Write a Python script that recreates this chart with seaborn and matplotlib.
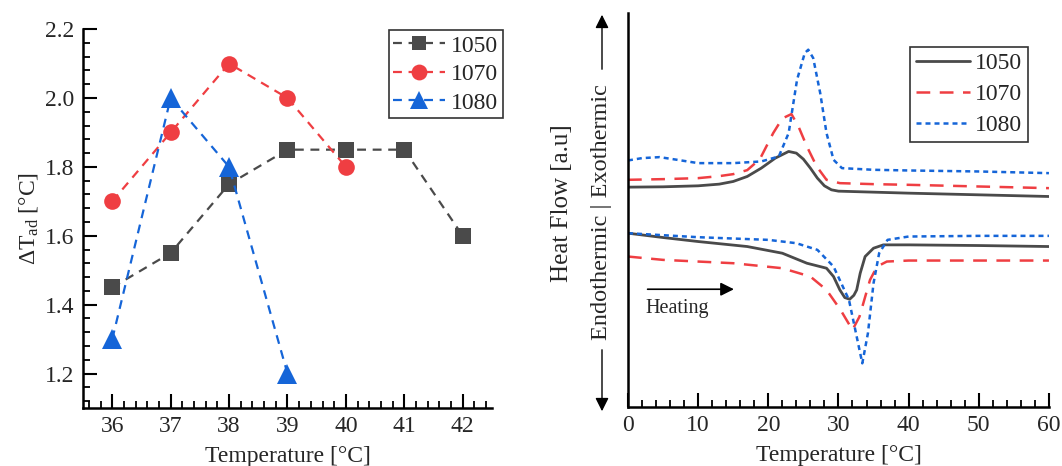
import numpy as np
import pandas as pd
import matplotlib
matplotlib.use("Agg")
import matplotlib.pyplot as plt
import seaborn as sns

# ---- Left panel data ----
temp_1050 = [36, 37, 38, 39, 40, 41, 42]
dtad_1050 = [1.45, 1.55, 1.75, 1.85, 1.85, 1.85, 1.60]
temp_1070 = [36, 37, 38, 39, 40]
dtad_1070 = [1.70, 1.90, 2.10, 2.00, 1.80]
temp_1080 = [36, 37, 38, 39]
dtad_1080 = [1.30, 2.00, 1.80, 1.20]

# ---- Right panel data (DSC, arbitrary units) ----
t_up_1050 = [0, 5, 10, 13, 15, 17, 19, 21, 22.9, 24, 25, 26, 27, 28, 29, 30, 35, 40, 50, 60]
hf_up_1050 = [65.9, 66.0, 66.3, 66.8, 67.6, 69.1, 71.6, 74.6, 76.6, 76.1, 74.3, 71.6, 68.6, 66.3, 65.1, 64.7, 64.4, 64.1, 63.6, 63.1]
t_up_1070 = [0, 5, 10, 13, 15, 17, 18.8, 20.7, 22, 23.3, 24.3, 25.5, 26.9, 28.3, 30.2, 35, 40, 50, 60]
hf_up_1070 = [68.1, 68.3, 68.6, 69.2, 69.8, 71.0, 74.3, 82.1, 86.5, 87.8, 84.1, 78.1, 72.1, 68.1, 67.1, 66.8, 66.6, 66.1, 65.6]
t_up_1080 = [0, 2, 4.5, 7, 10, 15, 19, 21.5, 22.9, 24.1, 25.2, 25.7, 26.4, 27.4, 28.3, 29.3, 30.5, 35, 40, 50, 60]
hf_up_1080 = [73.9, 74.6, 74.9, 74.1, 73.1, 73.1, 73.6, 75.1, 82.1, 98.1, 106.1, 107.1, 104.6, 94.1, 82.1, 74.1, 71.6, 71.1, 70.9, 70.6, 70.1]

t_lo_1050 = [0, 5, 10, 17, 22, 25.5, 28.3, 29.3, 30.2, 30.9, 31.6, 32.2, 32.6, 33.1, 33.8, 35, 36.4, 40, 50, 60]
hf_lo_1050 = [52.1, 50.8, 49.6, 48.1, 46.1, 43.1, 41.6, 39.1, 35.1, 32.8, 32.3, 33.5, 35.1, 40.1, 45.1, 47.6, 48.6, 48.6, 48.4, 48.1]
t_lo_1070 = [0, 5, 10, 15, 22, 26, 28.3, 30.3, 32, 33, 34.5, 35.5, 36.9, 40, 50, 60]
hf_lo_1070 = [45.1, 44.1, 43.6, 43.1, 41.6, 39.1, 35.1, 29.1, 23.1, 27.1, 38.1, 42.1, 43.6, 43.9, 43.9, 43.9]
t_lo_1080 = [0, 10, 20, 24, 27, 29.3, 31.5, 32.5, 33.4, 34.2, 35, 35.8, 37, 40, 50, 60]
hf_lo_1080 = [52.1, 50.9, 50.1, 49.1, 47.1, 42.1, 32.1, 22.1, 13.1, 22.1, 37.1, 46.1, 50.1, 51.1, 51.3, 51.3]

labels = ["1050", "1070", "1080"]
c_gray = "#4a4a4a"
c_red = "#ef3e42"
c_blue = "#1565d8"

sns.set_style("ticks")
plt.rcParams["font.family"] = ["Liberation Serif", "DejaVu Serif"]
plt.rcParams["mathtext.fontset"] = "custom"
plt.rcParams["mathtext.rm"] = "Liberation Serif"
plt.rcParams["mathtext.it"] = "Liberation Serif:italic"
plt.rcParams["xtick.direction"] = "in"
plt.rcParams["ytick.direction"] = "in"

fig = plt.figure(figsize=(10.62, 4.66), dpi=100)
axL = fig.add_axes([0.0782, 0.1245, 0.385, 0.813])
axR = fig.add_axes([0.5913, 0.1266, 0.3964, 0.8455])

fs = 17

# ---- Left ----
left_series = [
    (temp_1050, dtad_1050, "s", c_gray, 11),
    (temp_1070, dtad_1070, "o", c_red, 12),
    (temp_1080, dtad_1080, "^", c_blue, 14),
]
for (tx, ty, mk, col, ms), lab in zip(left_series, labels):
    df = pd.DataFrame({"T": tx, "d": ty})
    sns.lineplot(data=df, x="T", y="d", ax=axL, color=col, marker=mk, markersize=ms,
                 markeredgewidth=0, linestyle=(0, (4, 3)), linewidth=1.6,
                 label=lab, sort=False, estimator=None)

axL.set_xlim(35.5, 42.5)
axL.set_ylim(1.1, 2.2)
axL.set_xticks([36, 37, 38, 39, 40, 41, 42])
axL.set_yticks([1.2, 1.4, 1.6, 1.8, 2.0, 2.2])
axL.set_yticklabels(["1.2", "1.4", "1.6", "1.8", "2.0", "2.2"])
axL.xaxis.set_minor_locator(matplotlib.ticker.MultipleLocator(0.2))
axL.yaxis.set_minor_locator(matplotlib.ticker.MultipleLocator(0.04))
axL.tick_params(which="major", length=10, width=1.5, labelsize=fs, color="black", pad=6)
axL.tick_params(which="minor", length=5, width=1.3, color="black")
axL.set_xlabel("Temperature [°C]", fontsize=fs, labelpad=6)
axL.set_ylabel(r"$\Delta$T$_{\mathrm{ad}}$ [°C]", fontsize=fs, labelpad=4)
for s in ["top", "right"]:
    axL.spines[s].set_visible(False)
for s in ["left", "bottom"]:
    axL.spines[s].set_linewidth(1.8)
    axL.spines[s].set_color("black")
legL = axL.legend(loc="upper right", bbox_to_anchor=(1.027, 0.997), borderaxespad=0,
                  fontsize=fs, frameon=True, fancybox=False, edgecolor="#333333",
                  handlelength=2.2, handletextpad=0.25, labelspacing=0.3, borderpad=0.2,
                  framealpha=1, markerscale=0.95)
legL.get_frame().set_linewidth(1.2)

# ---- Right ----
right_series = [
    (t_up_1050, hf_up_1050, t_lo_1050, hf_lo_1050, c_gray, "-", 2.0),
    (t_up_1070, hf_up_1070, t_lo_1070, hf_lo_1070, c_red, (0, (5.5, 3.8)), 1.8),
    (t_up_1080, hf_up_1080, t_lo_1080, hf_lo_1080, c_blue, (0, (2, 1.6)), 1.8),
]
for (tu, hu, tl, hl, col, ls, lw), lab in zip(right_series, labels):
    dfu = pd.DataFrame({"T": tu, "HF": hu})
    dfl = pd.DataFrame({"T": tl, "HF": hl})
    sns.lineplot(data=dfu, x="T", y="HF", ax=axR, color=col, linestyle=ls, linewidth=lw,
                 label=lab, sort=False, estimator=None)
    sns.lineplot(data=dfl, x="T", y="HF", ax=axR, color=col, linestyle=ls, linewidth=lw,
                 sort=False, estimator=None)

axR.set_xlim(0, 60)
axR.set_ylim(0, 118.1)
axR.set_xticks([0, 10, 20, 30, 40, 50, 60])
axR.set_yticks([])
axR.xaxis.set_minor_locator(matplotlib.ticker.MultipleLocator(2))
axR.tick_params(which="major", length=10, width=1.5, labelsize=fs, color="black", pad=6)
axR.tick_params(which="minor", length=5, width=1.3, color="black")
axR.set_xlabel("Temperature [°C]", fontsize=fs, labelpad=6)
axR.set_ylabel("")
for s in ["top", "right"]:
    axR.spines[s].set_visible(False)
for s in ["left", "bottom"]:
    axR.spines[s].set_linewidth(1.8)
    axR.spines[s].set_color("black")
legR = axR.legend(loc="upper right", bbox_to_anchor=(0.950, 0.914), borderaxespad=0,
                  fontsize=fs, frameon=True, fancybox=False, edgecolor="#333333",
                  handlelength=2.3, handletextpad=0.2, labelspacing=0.4, borderpad=0.25,
                  framealpha=1)
legR.get_frame().set_linewidth(1.2)

# Heating arrow
axR.annotate("", xy=(15.5, 35.3), xytext=(2.4, 35.3),
             arrowprops=dict(arrowstyle="-|>", color="black", lw=1.2, mutation_scale=20))
axR.text(2.5, 29.6, "Heating", fontsize=14.5, ha="left", va="center")

# Right y labels
W, H = 1062.0, 466.0
fig.text(562 / W, 1 - 203 / H, "Heat Flow [a.u]", rotation=90, fontsize=18,
         ha="center", va="center")
fig.text(602 / W, 1 - 212 / H, "Endothermic | Exothermic", rotation=90, fontsize=17.5,
         ha="center", va="center")
fig.add_artist(matplotlib.patches.FancyArrowPatch((602 / W, 1 - 72 / H), (602 / W, 1 - 12 / H),
               transform=fig.transFigure, arrowstyle="-|>", mutation_scale=20,
               color="black", lw=1.0))
fig.add_artist(matplotlib.patches.FancyArrowPatch((602 / W, 1 - 347 / H), (602 / W, 1 - 414 / H),
               transform=fig.transFigure, arrowstyle="-|>", mutation_scale=20,
               color="black", lw=1.0))

fig.savefig("out.png", dpi=100)
